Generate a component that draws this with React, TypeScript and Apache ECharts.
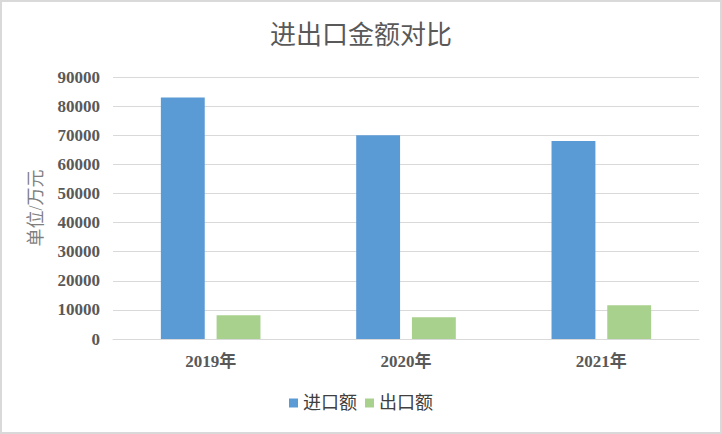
import React, { useEffect, useRef } from "react";
import * as echarts from "echarts";

const categories = ["2019年", "2020年", "2021年"];
const importValues = [83000, 70000, 68000];
const exportValues = [8200, 7500, 11600];
const seriesNames = ["进口额", "出口额"];

export default function App() {
  const ref = useRef<HTMLDivElement>(null);
  useEffect(() => {
    if (!ref.current) return;
    const chart = echarts.init(ref.current, null, { renderer: "svg" });
    const cjk = '"Liberation Serif", "Noto Sans CJK SC", serif';
    chart.setOption({
      animation: false,
      backgroundColor: "#ffffff",
      title: {
        text: "进出口金额对比",
        left: "center",
        top: 17,
        textStyle: { fontFamily: cjk, fontSize: 26, fontWeight: "normal", color: "#595959" },
      },
      legend: {
        data: seriesNames,
        bottom: 17,
        left: "center",
        itemWidth: 9,
        itemHeight: 9,
        itemGap: 8,
        icon: "rect",
        textStyle: { fontFamily: cjk, fontSize: 18, color: "#404040" },
      },
      grid: { left: 113, right: 23, top: 77, bottom: 95 },
      xAxis: {
        type: "category",
        data: categories,
        axisLine: { lineStyle: { color: "#d9d9d9", width: 1 } },
        axisTick: { show: false },
        axisLabel: { fontFamily: cjk, fontSize: 17, fontWeight: "bold", color: "#595959", margin: 14 },
      },
      yAxis: {
        type: "value",
        min: 0,
        max: 90000,
        interval: 10000,
        name: "单位/万元",
        nameLocation: "middle",
        nameGap: 68,
        nameTextStyle: { fontFamily: cjk, fontSize: 18, color: "#7f7f7f" },
        axisLine: { show: false },
        axisTick: { show: false },
        splitLine: { lineStyle: { color: "#d9d9d9", width: 1 } },
        axisLabel: {
          fontFamily: cjk,
          fontSize: 17,
          fontWeight: "bold",
          color: "#595959",
          margin: 13,
          formatter: (v: number) => String(v),
        },
      },
      series: [
        {
          name: seriesNames[0],
          type: "bar",
          data: importValues,
          itemStyle: { color: "#5b9bd5" },
          barGap: "27%",
          barCategoryGap: "49%",
        },
        {
          name: seriesNames[1],
          type: "bar",
          data: exportValues,
          itemStyle: { color: "#a9d18e" },
        },
      ],
      graphic: [
        {
          type: "rect",
          shape: { x: 1, y: 1, width: 720, height: 432 },
          style: { fill: "none", stroke: "#d9d9d9", lineWidth: 2 },
          silent: true,
        },
      ],
    });
    return () => chart.dispose();
  }, []);
  return (
    <div
      ref={ref}
      style={{ position: "absolute", left: 0, top: 0, width: 722, height: 434 }}
    />
  );
}
